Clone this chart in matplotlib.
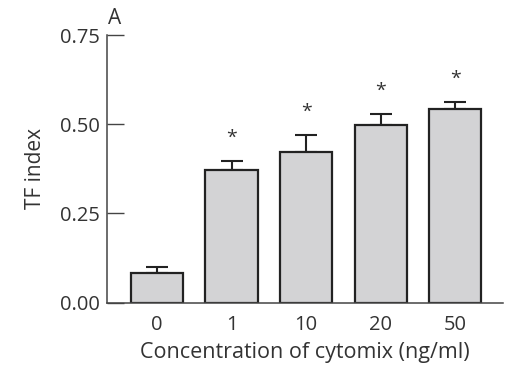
import numpy as np
import matplotlib.pyplot as plt

# %%
conc_labels = ['0', '1', '10', '20', '50']
tf_index = [0.084, 0.372, 0.422, 0.499, 0.543]
tf_err = [0.015, 0.024, 0.048, 0.029, 0.019]
significant = [False, True, True, True, True]

# %%
plt.rcParams['font.family'] = ['Open Sans', 'DejaVu Sans']
plt.rcParams['font.size'] = 14
txt_col = '#333333'

fig = plt.figure(figsize=(5.05, 3.71), dpi=100)
ax = fig.add_axes([107 / 505, 1 - 302.7 / 371, 396 / 505, (302.7 - 35) / 371])

x_vals = np.arange(len(conc_labels))
ax.bar(x_vals, tf_index, width=0.7, color='#d3d3d5', edgecolor='#222222',
       linewidth=1.6, zorder=2)
ax.errorbar(x_vals, tf_index, yerr=[np.zeros(len(tf_err)), tf_err], fmt='none',
            ecolor='#222222', elinewidth=1.5, capsize=8, capthick=1.5, zorder=1)

for xi, h, e, sig in zip(x_vals, tf_index, tf_err, significant):
    if sig:
        ax.text(xi, h + e + 0.066, '*', ha='center', va='center',
                fontsize=14, color=txt_col)

ax.set_xlim(-0.67, 4.64)
ax.set_ylim(0, 0.75)
ax.set_yticks([0, 0.25, 0.5, 0.75])
ax.set_yticklabels(['0.00', '0.25', '0.50', '0.75'])
ax.set_xticks(x_vals)
ax.set_xticklabels(conc_labels)
ax.tick_params(axis='y', direction='in', length=12, width=1, colors='#444444',
               labelcolor=txt_col, labelsize=14.5, pad=5)
ax.tick_params(axis='x', length=0, labelcolor=txt_col, labelsize=14.5, pad=9)

for s in ['top', 'right']:
    ax.spines[s].set_visible(False)
for s in ['left', 'bottom']:
    ax.spines[s].set_color('#444444')
    ax.spines[s].set_linewidth(1.1)

ax.set_xlabel('Concentration of cytomix (ng/ml)', color=txt_col, fontsize=15.5, labelpad=5)
ax.set_ylabel('TF index', color=txt_col, fontsize=15, labelpad=10)
fig.text(115 / 505, 1 - 19 / 371, 'A', ha='center', va='center', fontsize=15, color=txt_col)

fig.savefig('out.png', dpi=100)
